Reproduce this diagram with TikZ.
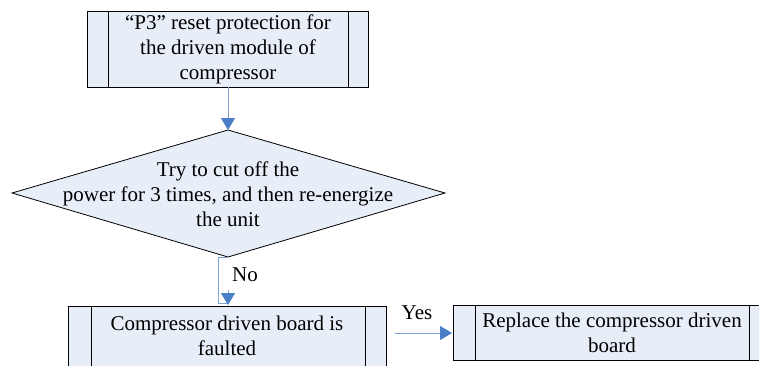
\documentclass[tikz,border=0pt]{standalone}
\usepackage{fontspec}
\setmainfont{Liberation Serif}
\usetikzlibrary{arrows.meta}
\definecolor{boxfill}{HTML}{E8EEF8}
\definecolor{arrowblue}{HTML}{4A7EC6}
\definecolor{linkblue}{HTML}{7FA3D6}
\tikzset{
  txt/.style={font=\fontsize{21}{25}\selectfont, align=center, inner sep=0pt},
  procbox/.style={draw=black, line width=0.8pt, fill=boxfill},
  link/.style={draw=linkblue, line width=1pt, -{Triangle[length=12pt,width=14pt,fill=arrowblue,color=arrowblue]}},
}
\begin{document}
\begin{tikzpicture}[x=1pt,y=-1pt]
\useasboundingbox (0,0) rectangle (759,365);
\clip (0,0) rectangle (759,365);
% top box
\path[procbox] (87,11) rectangle (368,87);
\draw[line width=0.8pt] (108,11) -- (108,87) (348,11) -- (348,87);
\node[txt] (top) at (228,49) {“P3” reset protection for\\the driven module of\\compressor};
\coordinate (topb) at (228,87);
% diamond
\path[procbox] (228,130) -- (445,193) -- (228,257) -- (12,193) -- cycle;
\node[txt] (dia) at (228,194) {Try to cut off the\\power for 3 times, and then re-energize\\the unit};
\coordinate (diat) at (228,130);
\coordinate (diab) at (227,257);
% bottom-left box
\path[procbox] (68,306) rectangle (386,368);
\draw[line width=0.8pt] (91,306) -- (91,368) (365,306) -- (365,368);
\node[txt] (fault) at (227,336) {Compressor driven board is\\faulted};
\coordinate (faultt) at (228,305);
\coordinate (faultr) at (395,333);
% right box
\path[procbox] (453,305) rectangle (772,360);
\draw[line width=0.8pt] (475,305) -- (475,360) (749,305) -- (749,360);
\node[txt] (repl) at (612,333) {Replace the compressor driven\\board};
\coordinate (replL) at (452,333);
% connectors
\draw[link] (topb) -- (diat);
\draw[linkblue, line width=1pt] (diab) -- (218,257) -- (218,303) -- (228,303);
\draw[link] (228,290) -- (faultt);
\node[txt] (no) at (245,275) {No};
\draw[link] (faultr) -- (replL);
\node[txt] (yes) at (417,313) {Yes};
\end{tikzpicture}
\end{document}
